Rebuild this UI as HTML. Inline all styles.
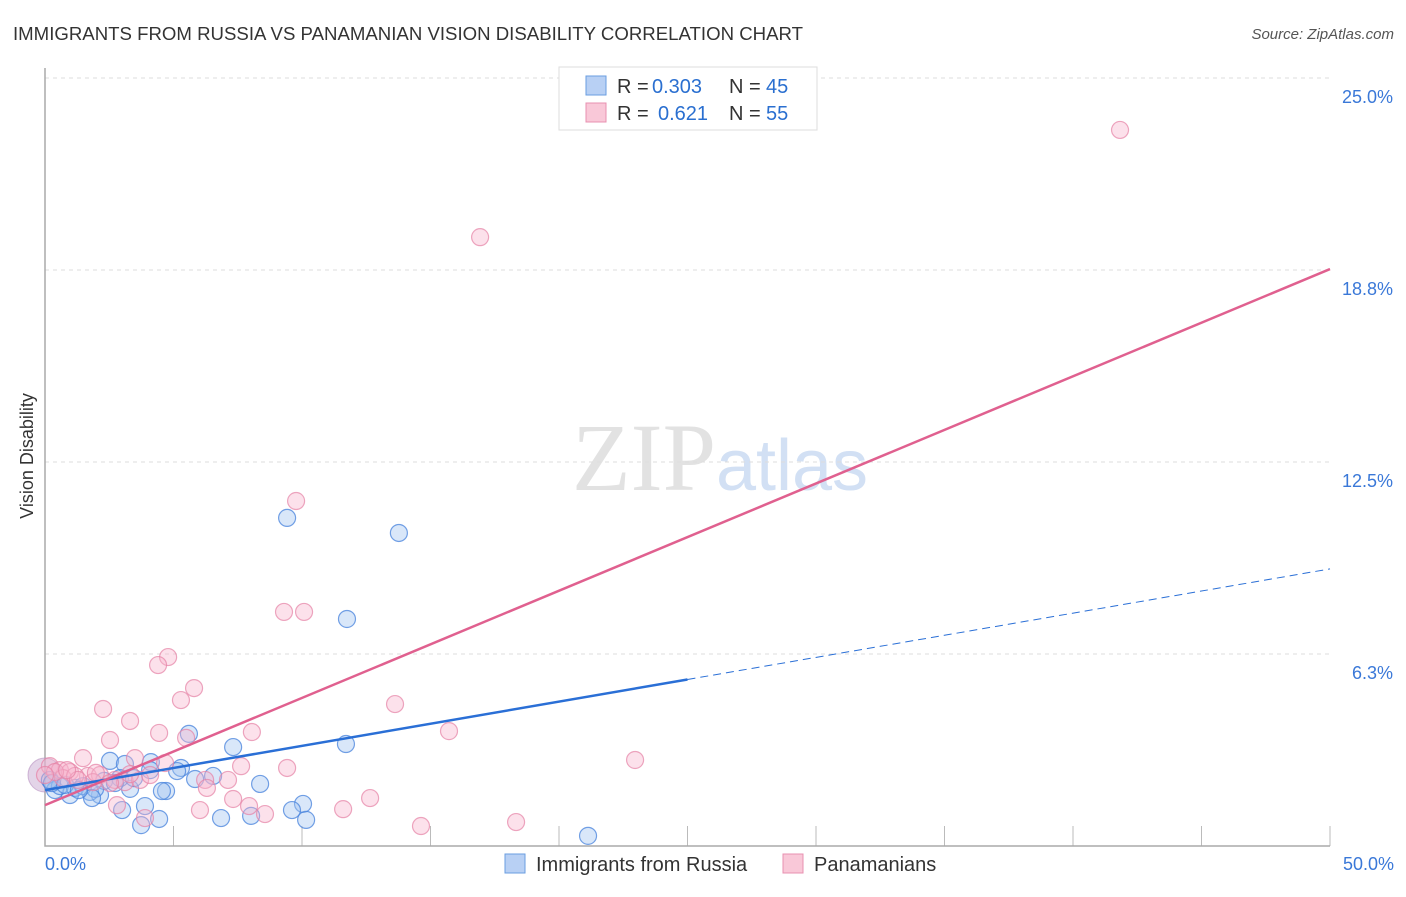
<!DOCTYPE html>
<html><head><meta charset="utf-8"><style>
body{margin:0;background:#fff;font-family:"Liberation Sans",sans-serif}
</style></head><body>
<svg id="chart" width="1406" height="892" xmlns="http://www.w3.org/2000/svg" font-family="Liberation Sans, sans-serif">
<text x="13" y="40" font-size="18" fill="#333" textLength="790" lengthAdjust="spacingAndGlyphs">IMMIGRANTS FROM RUSSIA VS PANAMANIAN VISION DISABILITY CORRELATION CHART</text>
<text x="1394" y="39" font-size="15" fill="#555" font-style="italic" text-anchor="end">Source: ZipAtlas.com</text>
<text x="720" y="490" font-size="96" text-anchor="middle" fill="#e2e2e2" font-family="Liberation Serif, serif">ZIP<tspan fill="#d2e0f4" font-family="Liberation Sans, sans-serif" font-size="72">atlas</tspan></text>
<text transform="translate(33,456) rotate(-90)" font-size="18" fill="#333" text-anchor="middle">Vision Disability</text>
<g id="grid"></g><g id="points"></g><g id="lines"></g>
<g>
<rect x="559" y="67" width="258" height="63" fill="#fff" stroke="#ddd"/>
<rect x="586" y="76" width="20" height="19" fill="#b8d0f4" stroke="#6a9ee0"/>
<rect x="586" y="103" width="20" height="19" fill="#f9c8d8" stroke="#e890b0"/>
<text y="93" font-size="20" fill="#333"><tspan x="617">R =</tspan><tspan x="652" fill="#2a6fd0">0.303</tspan><tspan x="729">N =</tspan><tspan x="766" fill="#2a6fd0">45</tspan></text>
<text y="120" font-size="20" fill="#333"><tspan x="617">R =</tspan><tspan x="658" fill="#2a6fd0">0.621</tspan><tspan x="729">N =</tspan><tspan x="766" fill="#2a6fd0">55</tspan></text>
</g>
<g>
<rect x="505" y="854" width="20" height="19" fill="#b8d0f4" stroke="#6a9ee0"/>
<text x="536" y="871" font-size="20" fill="#333">Immigrants from Russia</text>
<rect x="783" y="854" width="20" height="19" fill="#f9c8d8" stroke="#e890b0"/>
<text x="814" y="871" font-size="20" fill="#333">Panamanians</text>
</g>
</svg>
<script>
const yTicks=[25,18.75,12.5,6.25];
const yTickLabels=["25.0%","18.8%","12.5%","6.3%"];
const xTickVals=[5,10,15,20,25,30,35,40,45,50];
const xLabels=["0.0%","50.0%"];
const blueX=[9.42,13.77,11.75,5.60,11.71,7.32,4.12,2.53,3.11,5.29,5.14,6.54,5.84,8.37,4.71,4.55,3.31,2.14,1.75,0.97,0.39,0.58,0.19,1.17,1.48,3.89,3.00,10.04,9.61,8.02,6.85,4.44,3.74,10.16,21.13,2.92,2.30,0.27,0.78,1.95,2.72,3.46,4.09,1.83,1.32];
const blueY=[10.68,10.19,7.39,3.65,3.32,3.22,2.73,2.77,2.67,2.54,2.44,2.28,2.18,2.02,1.79,1.79,1.86,1.66,1.76,1.66,1.82,1.95,2.15,1.89,1.95,1.30,1.17,1.37,1.17,0.98,0.91,0.88,0.68,0.85,0.33,2.21,2.12,2.05,1.99,1.86,2.05,2.21,2.47,1.56,1.82];
const pinkX=[41.83,16.93,9.77,9.30,10.08,4.79,4.40,5.80,5.29,13.62,2.26,3.31,4.44,8.05,15.72,5.49,2.53,22.96,1.48,9.42,7.63,4.67,3.50,0.19,0.58,0.97,0.70,1.67,2.72,3.11,2.14,6.23,7.12,6.30,3.70,7.32,7.94,6.03,2.80,12.65,11.60,8.56,3.89,14.63,18.33,0.39,1.17,1.87,0.0,2.53,4.09,1.28,1.98,0.86,3.31];
const pinkY=[23.31,19.82,11.23,7.62,7.62,6.15,5.89,5.14,4.75,4.62,4.46,4.07,3.68,3.71,3.74,3.52,3.45,2.80,2.86,2.54,2.60,2.70,2.86,2.60,2.47,2.41,2.21,2.28,2.15,2.08,2.31,2.15,2.15,1.89,2.15,1.53,1.30,1.17,1.33,1.56,1.20,1.04,0.91,0.65,0.78,2.41,2.28,2.08,2.31,2.05,2.31,2.15,2.38,2.47,2.34];
const blueTrend=[1.82,0.144]; // intercept, slope
const pinkTrend=[1.33,0.349];
const blueSolidEnd=25;
const NS="http://www.w3.org/2000/svg";
const X=v=>45+v*1285/50, Y=v=>846-v*30.72;
function mk(tag,attrs,parent){const e=document.createElementNS(NS,tag);for(const k in attrs)e.setAttribute(k,attrs[k]);parent.appendChild(e);return e;}
const grid=document.getElementById('grid'),pts=document.getElementById('points'),lines=document.getElementById('lines');
yTicks.forEach((t,i)=>{
 const l=mk('line',{x1:45,x2:1330,y1:Y(t),y2:Y(t),stroke:'#ddd','stroke-dasharray':'4,4'},grid);
 
 
 const tx=mk('text',{x:1393,y:Y(t)+25,'font-size':18,fill:'#3a78d8','text-anchor':'end'},grid);
 tx.textContent=yTickLabels[i];
 
 
});
xTickVals.forEach(v=>{
 const l=mk('line',{x1:X(v),x2:X(v),y1:826,y2:846,stroke:'#bbb'},grid);
 
 
});
const ax=mk('path',{d:'M45 68 V846 H1330',fill:'none',stroke:'#aaa','stroke-width':1.5},grid);


[[0,'start',45],[50,'end',1394]].forEach((a,i)=>{
 const tx=mk('text',{x:a[2],y:870,'font-size':18,fill:'#3a78d8','text-anchor':a[1]},grid);
 tx.textContent=xLabels[i];
 
 
});
const big=mk('circle',{cx:X(0),cy:Y(2.31),r:17,fill:'rgba(200,170,210,0.5)',stroke:'rgba(180,140,190,0.6)'},pts);


blueX.forEach((v,i)=>{
 const c=mk('circle',{cx:X(v),cy:Y(blueY[i]),r:8.5,fill:'rgba(160,195,240,0.4)',stroke:'rgba(70,130,220,0.75)','stroke-width':1.2},pts);
 
 
});
pinkX.forEach((v,i)=>{
 const c=mk('circle',{cx:X(v),cy:Y(pinkY[i]),r:8.5,fill:'rgba(248,180,205,0.4)',stroke:'rgba(230,130,165,0.7)','stroke-width':1.2},pts);
 
 
});
const bt=v=>blueTrend[0]+blueTrend[1]*v, pt=v=>pinkTrend[0]+pinkTrend[1]*v;
let l=mk('line',{x1:X(0),y1:Y(bt(0)),x2:X(blueSolidEnd),y2:Y(bt(blueSolidEnd)),stroke:'#2a6fd6','stroke-width':2.5},lines);


l=mk('line',{x1:X(blueSolidEnd),y1:Y(bt(blueSolidEnd)),x2:X(50),y2:Y(bt(50)),stroke:'#2a6fd6','stroke-width':1,'stroke-dasharray':'8,5'},lines);


l=mk('line',{x1:X(0),y1:Y(pt(0)),x2:X(50),y2:Y(pt(50)),stroke:'#e0608f','stroke-width':2.5},lines);


</script>
</body></html>
